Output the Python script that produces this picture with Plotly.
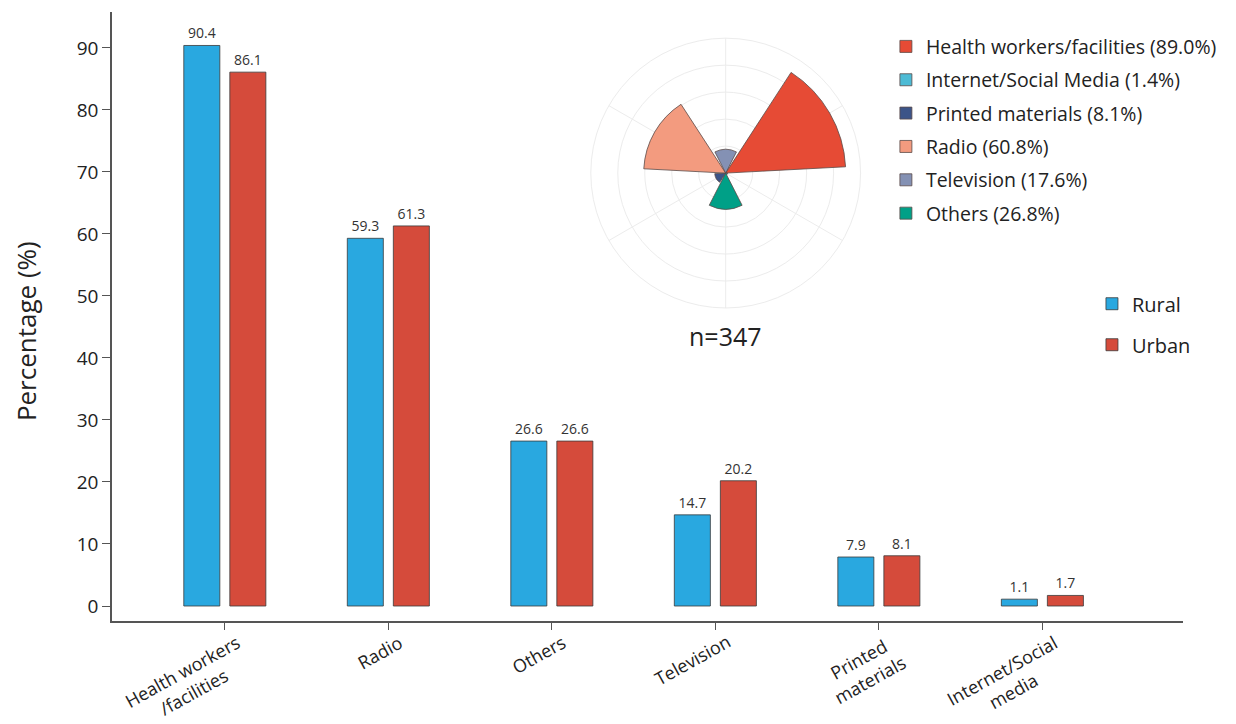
import plotly.graph_objects as go

# ---- data ----
categories = ["Health workers<br>/facilities", "Radio", "Others", "Television",
              "Printed<br>materials", "Internet/Social<br>media"]
rural = [90.4, 59.3, 26.6, 14.7, 7.9, 1.1]
urban = [86.1, 61.3, 26.6, 20.2, 8.1, 1.7]

polar_names = ["Health workers/facilities", "Internet/Social Media", "Printed materials",
               "Radio", "Television", "Others"]
polar_values = [89.0, 1.4, 8.1, 60.8, 17.6, 26.8]
polar_colors = ["#E64B35", "#4DBBD5", "#3C5488", "#F39B7F", "#8491B4", "#00A087"]
# angular order (counterclockwise starting at 30 degrees)
polar_order = ["Health workers/facilities", "Television", "Radio", "Printed materials",
               "Others", "Internet/Social Media"]
y_ticks = [0, 10, 20, 30, 40, 50, 60, 70, 80, 90]
y_title = "Percentage (%)"
n_label = "n=347"

FONT = "Open Sans"
fig = go.Figure()

fig.add_trace(go.Bar(
    x=categories, y=rural, name="Rural", legend="legend2", legendgroup="r",
    marker=dict(color="#29A8E0", line=dict(color="#3a3a3a", width=0.8)),
    text=[f"{v:.1f}" for v in rural], textposition="outside",
    textfont=dict(size=14, color="#333333", family=FONT), cliponaxis=False,
))
fig.add_trace(go.Bar(
    x=categories, y=urban, name="Urban", legend="legend2", legendgroup="u",
    marker=dict(color="#D54B3B", line=dict(color="#3a3a3a", width=0.8)),
    text=[f"{v:.1f}" for v in urban], textposition="outside",
    textfont=dict(size=14, color="#333333", family=FONT), cliponaxis=False,
))

for nm, val, col in zip(polar_names, polar_values, polar_colors):
    fig.add_trace(go.Barpolar(
        r=[val], theta=[nm], name=f"{nm} ({val:.1f}%)", legendgroup=nm,
        marker=dict(color=col, line=dict(color="#5a4a48", width=0.8)),
        legend="legend",
    ))

# category labels, rotated, with centred lines (anchored at the top-right corner)
annotations = []
for c in categories:
    nlines = c.count("<br>") + 1
    annotations.append(dict(
        text=c, x=c, xref="x", y=0, yref="paper", xanchor="right", yanchor="top",
        textangle=-29, align="center", showarrow=False,
        xshift=10 + 11.5 * nlines, yshift=-6,
        font=dict(size=18, family=FONT, color="#222222")))
annotations.append(dict(text=n_label, x=0.573, y=0.468, xref="paper", yref="paper",
                        showarrow=False, font=dict(size=25, family=FONT, color="#222222")))
annotations.append(dict(text=y_title, x=0, y=0.476, xref="paper", yref="paper",
                        xanchor="center", yanchor="middle", xshift=-86, textangle=-90,
                        showarrow=False, font=dict(size=26, family=FONT, color="#222222")))

fig.update_layout(
    width=1236, height=724,
    margin=dict(l=112, r=53, t=12, b=103),
    paper_bgcolor="white", plot_bgcolor="white",
    font=dict(family=FONT, color="#222222"),
    barmode="group", bargap=0.437, bargroupgap=0.217,
    xaxis=dict(
        range=[-0.69, 5.86], showline=True, linecolor="#555555", linewidth=1.5,
        ticks="outside", ticklen=7, tickcolor="#555555", showticklabels=False,
        showgrid=False, zeroline=False, automargin=False,
    ),
    yaxis=dict(
        range=[-2.42, 95.8], tickvals=y_ticks, showline=True, linecolor="#555555",
        linewidth=1.5, ticks="outside", ticklen=8, tickcolor="#555555",
        tickfont=dict(size=19, family=FONT, color="#222222"),
        showgrid=False, zeroline=False, automargin=False,
    ),
    polar=dict(
        domain=dict(x=[0.447, 0.699], y=[0.514, 0.957]),
        bgcolor="white", bargap=0.1,
        radialaxis=dict(range=[0, 100], tickvals=[20, 40, 60, 80, 100], showticklabels=False,
                        ticks="", showline=False, gridcolor="#ECECEC", gridwidth=1),
        angularaxis=dict(type="category", categoryarray=polar_order, rotation=30,
                         direction="counterclockwise", showticklabels=False, ticks="",
                         showline=True, linecolor="#ECECEC", gridcolor="#ECECEC"),
    ),
    legend=dict(x=0.7226, y=0.975, xanchor="left", yanchor="top", tracegroupgap=5,
                font=dict(size=19.5, family=FONT, color="#222222"), bgcolor="rgba(0,0,0,0)",
                itemclick=False),
    legend2=dict(x=0.915, y=0.553, xanchor="left", yanchor="top", tracegroupgap=12,
                 font=dict(size=20, family=FONT, color="#222222"), bgcolor="rgba(0,0,0,0)"),
    showlegend=True,
    annotations=annotations,
)

fig.write_html("out.html", config={"displayModeBar": False},
               post_script="document.body.style.margin='0px';")
